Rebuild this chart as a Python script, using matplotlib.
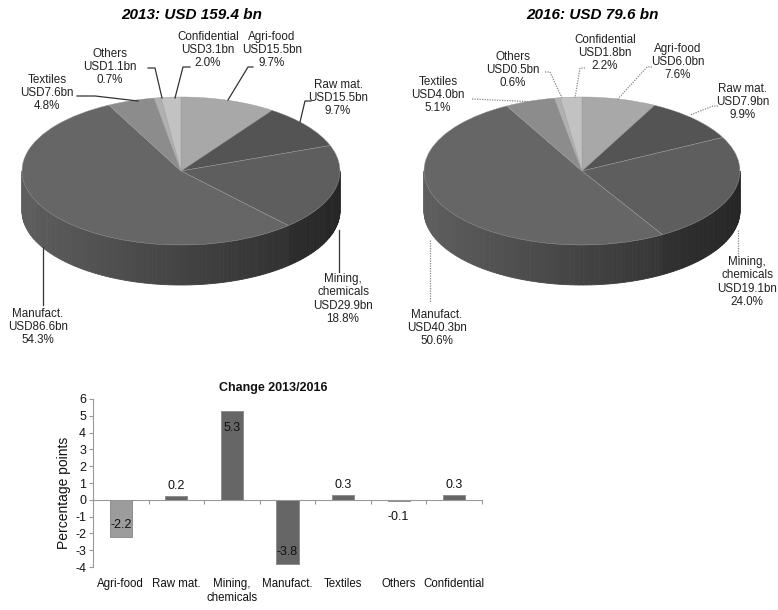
import numpy as np
import matplotlib
matplotlib.use("Agg")
import matplotlib.pyplot as plt
import matplotlib.colors as mcolors
from matplotlib.lines import Line2D
from matplotlib.patches import Polygon

# ---------------------------------------------------------------- data
sectors = ["Agri-food", "Raw mat.", "Mining,\nchemicals", "Manufact.",
           "Textiles", "Others", "Confidential"]
usd_2013 = [15.5, 15.5, 29.9, 86.6, 7.6, 1.1, 3.1]
pct_2013 = [9.7, 9.7, 18.8, 54.3, 4.8, 0.7, 2.0]
usd_2016 = [6.0, 7.9, 19.1, 40.3, 4.0, 0.5, 1.8]
pct_2016 = [7.6, 9.9, 24.0, 50.6, 5.1, 0.6, 2.2]
total_2013 = 159.4
total_2016 = 79.6
change_pp = [-2.2, 0.2, 5.3, -3.8, 0.3, -0.1, 0.3]

# ---------------------------------------------------------------- styles
slice_colors = ["#a8a8a8", "#545454", "#5e5e5e", "#666666",
                "#8c8c8c", "#b0b0b0", "#c2c2c2"]
bar_colors = ["#9c9c9c", "#666666", "#666666", "#666666",
              "#666666", "#8a8a8a", "#666666"]

plt.rcParams["font.family"] = ["Liberation Sans", "DejaVu Sans"]

FIG_W, FIG_H = 778, 610
fig = plt.figure(figsize=(FIG_W / 100, FIG_H / 100), dpi=100)
fig.patch.set_facecolor("white")


def fx(x):
    return x / FIG_W


def fy(y):
    return 1 - y / FIG_H


def pie3d(values, colors, cx, cy, rx, ry, depth, box):
    """Tilted pie: flattened top face plus a shaded rim on the front half."""
    x0, y0, x1, y1 = box
    ax = fig.add_axes([fx(x0), fy(y1), (x1 - x0) / FIG_W, (y1 - y0) / FIG_H])
    wedges, _ = ax.pie(values, colors=colors, startangle=90,
                       counterclock=False, radius=1.0, center=(0, 0),
                       wedgeprops=dict(linewidth=0.3, edgecolor="#9a9a9a"))
    ax.set_aspect("auto")
    ax.set_xlim((x0 - cx) / rx, (x1 - cx) / rx)
    ax.set_ylim((cy - y1) / ry, (cy - y0) / ry)
    ax.axis("off")
    d = depth / ry
    for w, col in zip(wedges, colors):
        t1, t2 = w.theta1, w.theta2
        base = np.array(mcolors.to_rgb(col))
        for lo, hi in ((-540, -360), (-180, 0), (180, 360)):
            a, b = max(t1, lo), min(t2, hi)
            if b <= a:
                continue
            edges = np.linspace(a, b, max(2, int((b - a) / 1.5) + 1))
            for s, e in zip(edges[:-1], edges[1:]):
                tt = np.radians(np.linspace(s, e, 4))
                xs, ys = np.cos(tt), np.sin(tt)
                shade = 0.66 - 0.26 * np.cos(np.radians((s + e) / 2))
                c = np.clip(base * shade, 0, 1)
                poly = np.column_stack([np.r_[xs, xs[::-1]],
                                        np.r_[ys, ys[::-1] - d]])
                ax.add_patch(Polygon(poly, closed=True, facecolor=c,
                                     edgecolor=c, linewidth=0.6, zorder=1))
    for w in wedges:
        w.set_zorder(3)
    return ax


def slice_label(name, usd, pct):
    return f"{name}\nUSD{usd:.1f}bn\n{pct:.1f}%"


def leader(points, color, style):
    xs = [fx(p[0]) for p in points]
    ys = [fy(p[1]) for p in points]
    fig.add_artist(Line2D(xs, ys, transform=fig.transFigure, color=color,
                          linewidth=0.9, linestyle=style))


# ---------------------------------------------------------------- pies
pie3d(pct_2013, slice_colors, 181, 171, 159, 74, 40, (0, 0, 389, 360))
pie3d(pct_2016, slice_colors, 582, 171, 158, 74, 40, (389, 0, 778, 360))

fig.text(fx(192), fy(15), f"2013: USD {total_2013:.1f} bn", ha="center",
         va="center", fontsize=11, fontweight="bold", fontstyle="italic")
fig.text(fx(592), fy(15), f"2016: USD {total_2016:.1f} bn", ha="center",
         va="center", fontsize=11, fontweight="bold", fontstyle="italic")

# label centres and leader paths (pixels from top-left)
layout_2013 = [
    ((272, 50), [(253, 67), (248, 67), (228, 100)]),
    ((338, 98), [(311, 101), (305, 101), (300, 122)]),
    ((343, 299), [(339, 230), (339, 272)]),
    ((38, 327), [(43, 247), (43, 305)]),
    ((47, 93), [(77, 96), (95, 96), (138, 101)]),
    ((110, 67), [(148, 68), (155, 68), (162, 98)]),
    ((208, 50), [(190, 67), (183, 67), (175, 98)]),
]
layout_2016 = [
    ((678, 62), [(652, 67), (647, 67), (617, 100)]),
    ((743, 102), [(718, 106), (713, 106), (690, 115)]),
    ((747, 282), [(738, 230), (738, 258)]),
    ((437, 328), [(430, 240), (430, 302)]),
    ((438, 95), [(472, 99), (537, 102)]),
    ((513, 70), [(545, 72), (550, 72), (562, 98)]),
    ((605, 53), [(585, 68), (580, 68), (575, 98)]),
]

for i, name in enumerate(sectors):
    (lx, ly), path = layout_2013[i]
    fig.text(fx(lx), fy(ly), slice_label(name, usd_2013[i], pct_2013[i]),
             ha="center", va="center", fontsize=8.4, linespacing=1.15,
             color="#222222")
    leader(path, "#333333", "-")
    (lx, ly), path = layout_2016[i]
    fig.text(fx(lx), fy(ly), slice_label(name, usd_2016[i], pct_2016[i]),
             ha="center", va="center", fontsize=8.4, linespacing=1.15,
             color="#222222")
    leader(path, "#888888", (0, (1, 1)))

# ---------------------------------------------------------------- bars
BAR_FS = 8.3
bax = fig.add_axes([fx(93), fy(567), 389 / FIG_W, 168 / FIG_H])
x = np.arange(len(sectors))
bax.bar(x, change_pp, width=0.4, color=bar_colors, edgecolor="#8e8e8e",
        linewidth=0.7, zorder=2)
bax.set_xlim(-0.5, len(sectors) - 0.5)
bax.set_ylim(-4, 6)
bax.set_yticks(range(-4, 7))
bax.set_yticklabels([str(v) for v in range(-4, 7)], fontsize=9)
bax.set_xticks(np.arange(-0.5, len(sectors), 1.0))
bax.tick_params(axis="x", length=3, color="#999999", labelbottom=False)
bax.tick_params(axis="y", length=3, color="#999999", pad=2,
                labelcolor="#111111")
for side in ("top", "right"):
    bax.spines[side].set_visible(False)
bax.spines["left"].set_color("#999999")
bax.spines["bottom"].set_color("#999999")
bax.spines["bottom"].set_position(("data", 0))
bax.spines["bottom"].set_zorder(3)

for i, name in enumerate(sectors):
    bax.annotate(name, xy=(i, -4), xytext=(0, -8), textcoords="offset points",
                 ha="center", va="top", fontsize=BAR_FS,
                 linespacing=1.2, color="#111111")

for i, v in enumerate(change_pp):
    if abs(v) >= 1:
        off, va = ((0, -8), "top") if v > 0 else ((0, 4), "bottom")
    else:
        off, va = ((0, 3), "bottom") if v > 0 else ((0, -7), "top")
    bax.annotate(f"{v:.1f}", xy=(i, v), xytext=off, textcoords="offset points",
                 ha="center", va=va, fontsize=9, color="#111111", zorder=4)

fig.text(fx(64), fy(493), "Percentage points", rotation=90, ha="center",
         va="center", fontsize=10, color="#111111")
fig.text(fx(273), fy(388), "Change 2013/2016", ha="center", va="center",
         fontsize=9, fontweight="bold", color="#111111")

fig.savefig("out.png", dpi=100, facecolor="white")
